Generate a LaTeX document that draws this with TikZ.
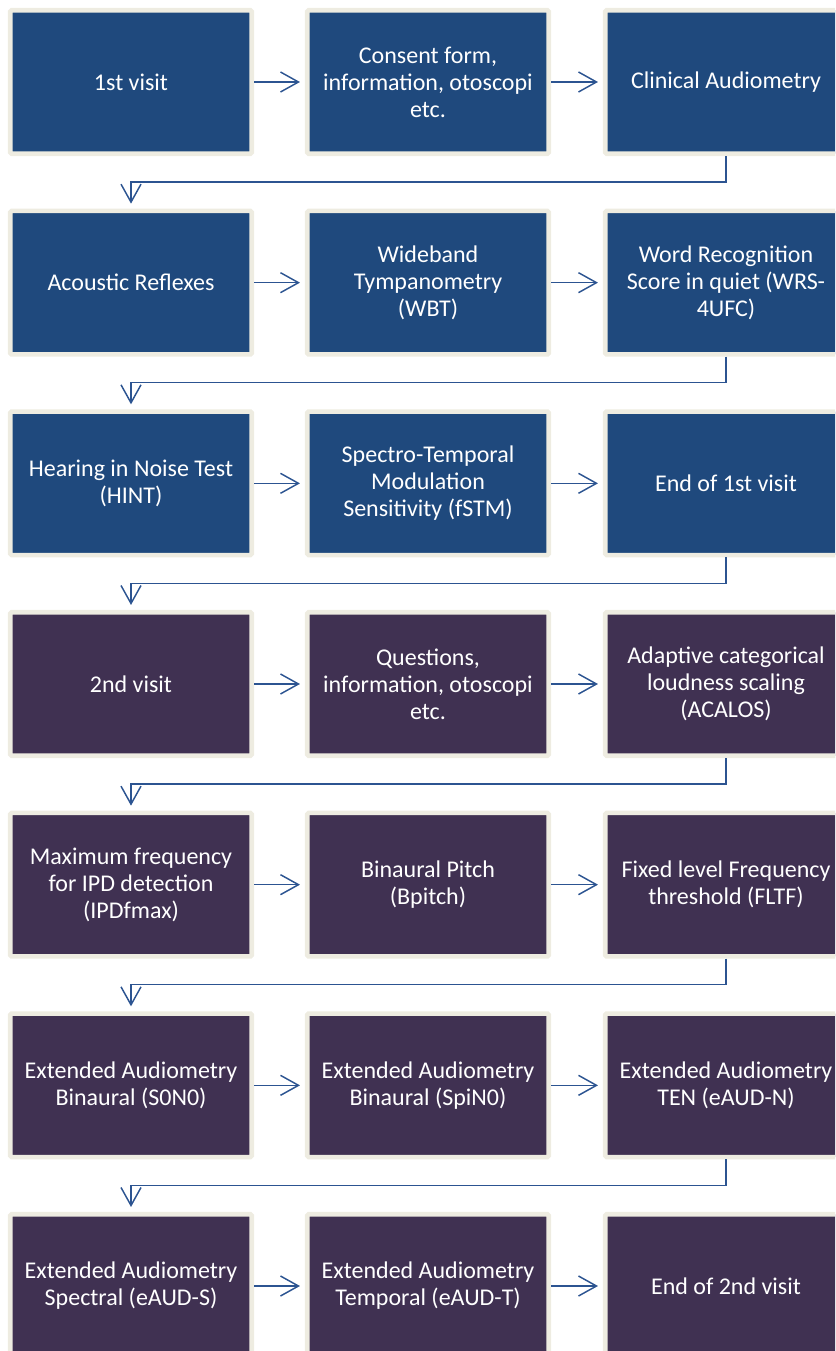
\documentclass[tikz,border=0pt]{standalone}
\usepackage{fontspec}
\setmainfont{Carlito}
\usetikzlibrary{arrows.meta}
\definecolor{boxblue}{RGB}{31,73,125}
\definecolor{boxpurple}{RGB}{64,49,82}
\definecolor{boxedge}{RGB}{238,236,225}
\definecolor{arrowblue}{RGB}{44,84,145}
\tikzset{
  stage/.style={draw=boxedge, line width=3.4pt, rounded corners=1pt,
    minimum width=241.5*0.75pt, minimum height=143.5*0.75pt,
    text=white, align=center, inner sep=0pt,
    font=\fontsize{18}{20.25}\selectfont},
  bluebox/.style={stage, fill=boxblue},
  purplebox/.style={stage, fill=boxpurple},
  flow/.style={draw=arrowblue, line width=1.1pt,
    -{Straight Barb[length=13.5pt, width=15pt, line width=1.1pt]}, shorten >=3.75pt},
}
\begin{document}
\begin{tikzpicture}[x=0.75pt, y=-0.75pt]
\useasboundingbox (0,0) rectangle (835,1351);
\clip (0,0) rectangle (835,1351);
% row 1
\node[bluebox] (a1) at (131,82) {1st visit};
\node[bluebox] (a2) at (428,82) {Consent form,\\information, otoscopi\\etc.};
\node[bluebox] (a3) at (726,82) {Clinical Audiometry};
% row 2
\node[bluebox] (b1) at (131,282.67) {Acoustic Reflexes};
\node[bluebox] (b2) at (428,282.67) {Wideband\\Tympanometry\\(WBT)};
\node[bluebox] (b3) at (726,282.67) {Word Recognition\\Score in quiet (WRS-\\4UFC)};
% row 3
\node[bluebox] (c1) at (131,483.33) {Hearing in Noise Test\\(HINT)};
\node[bluebox] (c2) at (428,483.33) {Spectro-Temporal\\Modulation\\Sensitivity (fSTM)};
\node[bluebox] (c3) at (726,483.33) {End of 1st visit};
% row 4
\node[purplebox] (d1) at (131,684) {2nd visit};
\node[purplebox] (d2) at (428,684) {Questions,\\information, otoscopi\\etc.};
\node[purplebox] (d3) at (726,684) {Adaptive categorical\\loudness scaling\\(ACALOS)};
% row 5
\node[purplebox] (e1) at (131,884.67) {Maximum frequency\\for IPD detection\\(IPDfmax)};
\node[purplebox] (e2) at (428,884.67) {Binaural Pitch\\(Bpitch)};
\node[purplebox] (e3) at (726,884.67) {Fixed level Frequency\\threshold (FLTF)};
% row 6
\node[purplebox] (f1) at (131,1085.33) {Extended Audiometry\\Binaural (S0N0)};
\node[purplebox] (f2) at (428,1085.33) {Extended Audiometry\\Binaural (SpiN0)};
\node[purplebox] (f3) at (726,1085.33) {Extended Audiometry\\TEN (eAUD-N)};
% row 7
\node[purplebox] (g1) at (131,1286) {Extended Audiometry\\Spectral (eAUD-S)};
\node[purplebox] (g2) at (428,1286) {Extended Audiometry\\Temporal (eAUD-T)};
\node[purplebox] (g3) at (726,1286) {End of 2nd visit};
% horizontal arrows
\foreach \r in {a,b,c,d,e,f,g}{
  \draw[flow] (\r1.east) -- (\r2.west);
  \draw[flow] (\r2.east) -- (\r3.west);
}
% row-to-row connectors
\draw[flow] (a3.south) -- ++(0,26) -| (b1.north);
\draw[flow] (b3.south) -- ++(0,26) -| (c1.north);
\draw[flow] (c3.south) -- ++(0,26) -| (d1.north);
\draw[flow] (d3.south) -- ++(0,26) -| (e1.north);
\draw[flow] (e3.south) -- ++(0,26) -| (f1.north);
\draw[flow] (f3.south) -- ++(0,26) -| (g1.north);
\end{tikzpicture}
\end{document}
